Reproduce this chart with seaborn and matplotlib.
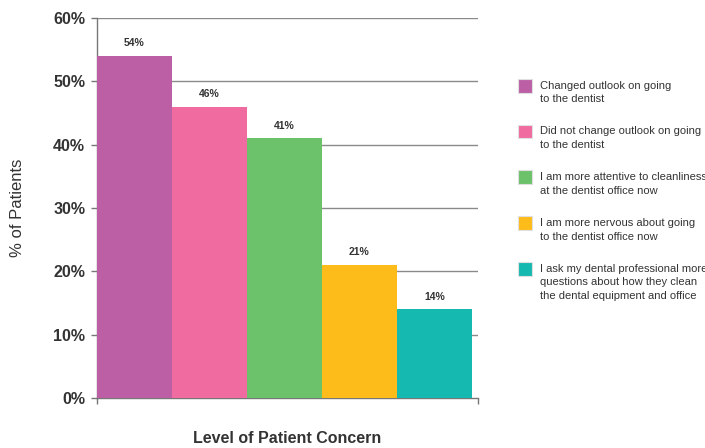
import matplotlib
matplotlib.use("Agg")
import matplotlib.pyplot as plt
from matplotlib.patches import Patch, Rectangle
from matplotlib.legend_handler import HandlerPatch
import seaborn as sns
import pandas as pd

categories = [
    "Changed outlook on going\nto the dentist",
    "Did not change outlook on going\nto the dentist",
    "I am more attentive to cleanliness\nat the dentist office now",
    "I am more nervous about going\nto the dentist office now",
    "I ask my dental professional more\nquestions about how they clean\nthe dental equipment and office",
]
percent = [54, 46, 41, 21, 14]
colors = ["#BC5FA5", "#EF6BA0", "#6CC16B", "#FDBC19", "#16B9B0"]
y_ticks = [0, 10, 20, 30, 40, 50, 60]

sns.set_theme(style="white")
plt.rcParams["font.family"] = ["Liberation Sans", "DejaVu Sans"]
text_color = "#333333"
axis_color = "#777777"

df = pd.DataFrame({"concern": categories, "pct": percent})

fig = plt.figure(figsize=(7.05, 4.48), dpi=100)
ax = fig.add_axes([0.1376, 0.1116, 0.5404, 0.8482])

sns.barplot(data=df, x="concern", y="pct", hue="concern", palette=colors,
            width=1.0, dodge=False, legend=False, saturation=1, ax=ax,
            linewidth=0, zorder=3)

ax.set_ylim(0, 60)
ax.set_xlim(-0.5, 4.58)
ax.set_yticks(y_ticks)
ax.set_yticklabels([f"{v}%" for v in y_ticks], fontsize=11.5, fontweight="bold",
                   color=text_color)
ax.set_xticks([-0.5, 4.58])
ax.set_xticklabels(["", ""])
ax.tick_params(axis="y", length=4.5, width=1, color=axis_color, pad=4, left=True)
ax.tick_params(axis="x", length=4.5, width=1, color=axis_color, bottom=True)

for y in y_ticks[1:]:
    ax.axhline(y, color="#8a8a8a", linewidth=1, zorder=1)

for side in ("top", "right"):
    ax.spines[side].set_visible(False)
for side in ("left", "bottom"):
    ax.spines[side].set_color(axis_color)
    ax.spines[side].set_linewidth(1)

for i, v in enumerate(percent):
    ax.text(i, v + 2.0, f"{v}%", ha="center", va="center", fontsize=7.5,
            fontweight="bold", color=text_color)

ax.set_ylabel("% of Patients", fontsize=12, color=text_color, labelpad=20)
ax.set_xlabel("Level of Patient Concern", fontsize=11.5, fontweight="bold",
              color=text_color, labelpad=16)

# Legend swatches sit beside the first line of each label
legend_fs = 8
legend_ls = 1.45
line_step = legend_fs * (0.21 + 0.73 * legend_ls)


def make_handler(nlines):
    shift = (nlines - 1) * line_step / 2.0

    def patch_func(legend, orig_handle, xdescent, ydescent, width, height, fontsize):
        side = height
        return Rectangle((-xdescent, -ydescent + (height - side) / 2 + shift),
                         side, side)
    return HandlerPatch(patch_func=patch_func)


handles = [Patch(facecolor=c, edgecolor="#e0e0e0", linewidth=0.8) for c in colors]
handler_map = {h: make_handler(lbl.count("\n") + 1)
               for h, lbl in zip(handles, categories)}
leg = fig.legend(handles, categories, loc="upper left", handler_map=handler_map,
                 bbox_to_anchor=(0.728, 0.83), frameon=False, fontsize=legend_fs,
                 handlelength=1.26, handleheight=1.55, handletextpad=0.72,
                 labelspacing=2.0, borderaxespad=0)
for t in leg.get_texts():
    t.set_color(text_color)
    t.set_linespacing(legend_ls)

fig.savefig("out.png", dpi=100)
